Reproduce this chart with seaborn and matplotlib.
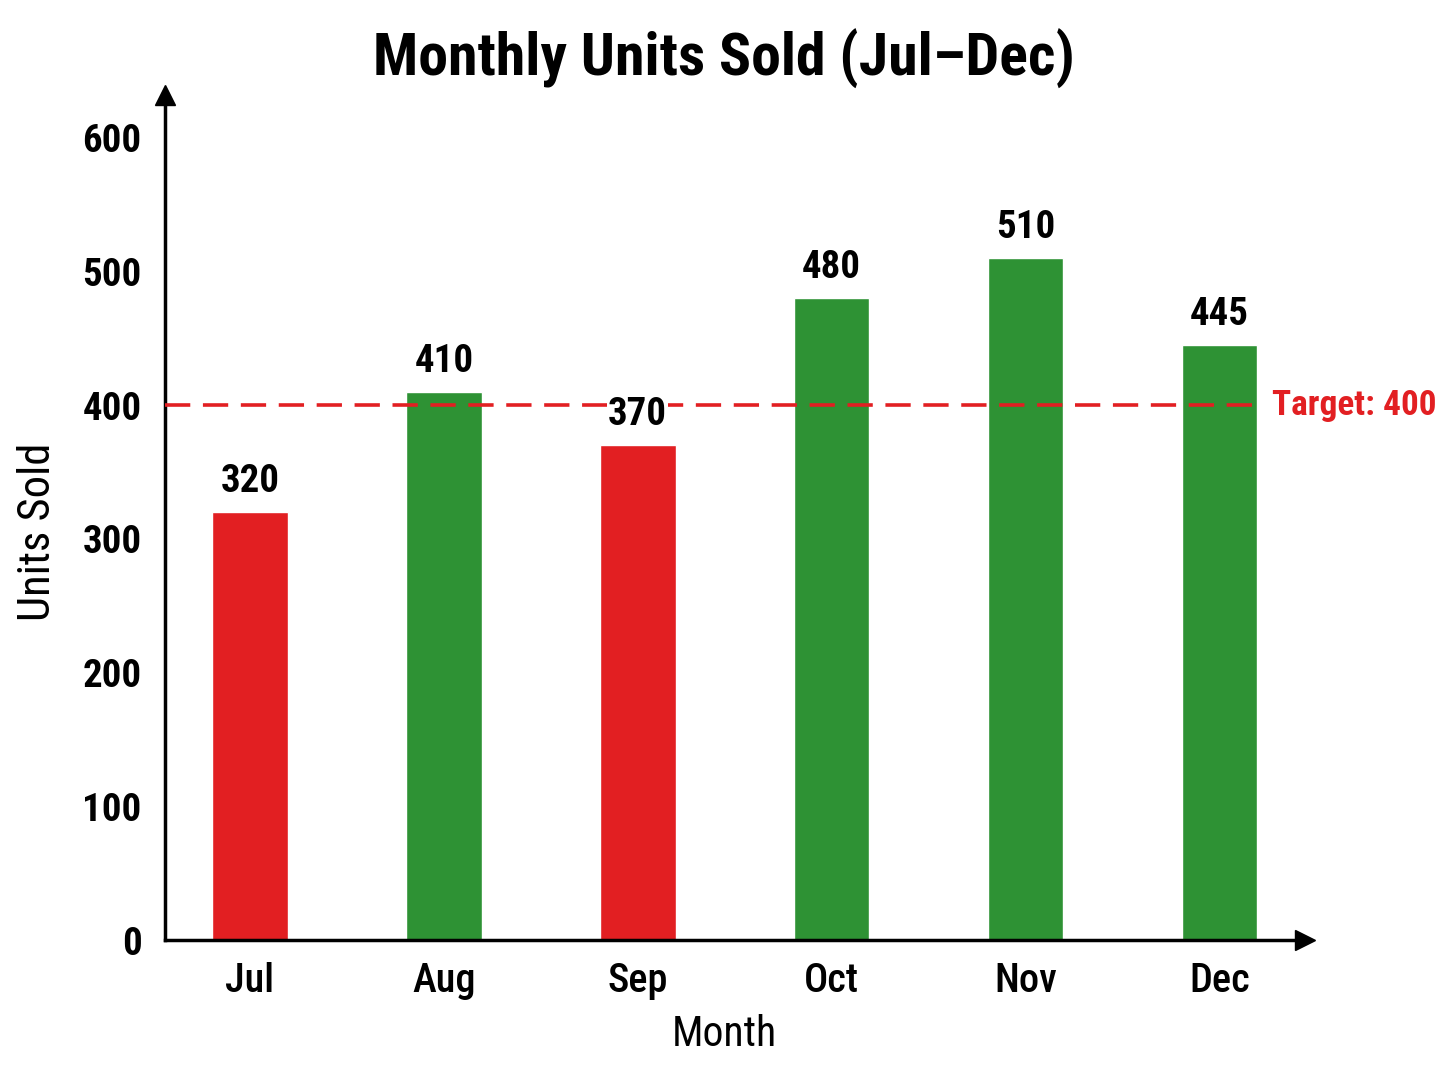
import matplotlib
matplotlib.use("Agg")
import matplotlib.pyplot as plt
from matplotlib import font_manager
import seaborn as sns
import pandas as pd

# data
months = ["Jul", "Aug", "Sep", "Oct", "Nov", "Dec"]
units = [320, 410, 370, 480, 510, 445]
target = 400
y_ticks = [0, 100, 200, 300, 400, 500, 600]

RED = "#e21f22"
GREEN = "#2e9234"

sns.set_theme(style="white")
installed = {f.name for f in font_manager.fontManager.ttflist}
fams = [f for f in ["Liberation Sans Narrow", "Roboto Condensed", "Liberation Sans"] if f in installed]
plt.rcParams["font.family"] = fams + ["DejaVu Sans"]
plt.rcParams.update({"text.color": "black", "axes.labelcolor": "black",
                     "xtick.color": "black", "ytick.color": "black"})

df = pd.DataFrame({"month": months, "units": units})
df["status"] = ["above" if u >= target else "below" for u in units]

fig = plt.figure(figsize=(14.48, 10.86), dpi=100)
ax = fig.add_axes([0.114, 0.1344, 0.787, 0.778])

sns.barplot(data=df, x="month", y="units", hue="status",
            palette={"above": GREEN, "below": RED}, dodge=False,
            width=0.39, legend=False, saturation=1, ax=ax)

# target line
ax.axhline(target, xmin=0, xmax=0.96, color=RED, lw=2.6, ls=(0, (7, 3.5)), zorder=4)
ax.text(0.971, target, f"Target: {target}", transform=ax.get_yaxis_transform(),
        color=RED, fontsize=25.5, fontweight="bold", va="center", ha="left", clip_on=False)

# value labels
for i, v in enumerate(units):
    ax.text(i, v + 9, str(v), ha="center", va="bottom", zorder=6,
            fontsize=28, fontweight="bold", color="black",
            bbox=dict(facecolor="white", edgecolor="none", pad=0.5))

ax.set_xlim(-0.438, 5.44)
ax.set_ylim(0, 632)
ax.set_yticks(y_ticks)

for s in ["top", "right"]:
    ax.spines[s].set_visible(False)
for s in ["left", "bottom"]:
    ax.spines[s].set_color("black")
    ax.spines[s].set_linewidth(2.5)

# arrow heads at axis ends
ax.plot(1, 0, ">", color="black", ms=14, transform=ax.transAxes, clip_on=False)
ax.plot(0, 1, "^", color="black", ms=14, transform=ax.transAxes, clip_on=False)

ax.tick_params(axis="y", length=9, width=2, labelsize=28, pad=8)
ax.tick_params(axis="x", length=0, labelsize=29, pad=16)
for lab in ax.get_yticklabels():
    lab.set_fontweight("semibold")
for lab in ax.get_xticklabels():
    lab.set_fontweight("medium")

ax.set_xlabel("Month", fontsize=30)
ax.set_ylabel("Units Sold", fontsize=32)
# label positions as in the picture (figure coords)
ax.xaxis.set_label_coords(0.5, 0.047, transform=fig.transFigure)
ax.xaxis.label.set_va("center")
ax.yaxis.set_label_coords(0.026, 0.51, transform=fig.transFigure)
ax.yaxis.label.set_va("center")

fig.suptitle("Monthly Units Sold (Jul\u2013Dec)", fontsize=43, fontweight="bold", x=0.5, y=0.946, va="center")

fig.savefig("out.png", dpi=100, facecolor="white")
